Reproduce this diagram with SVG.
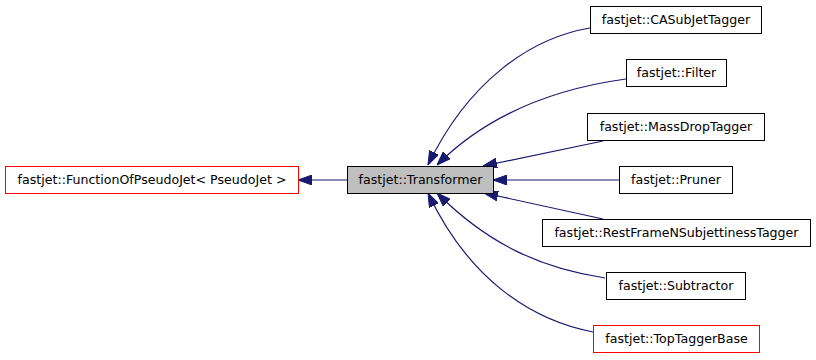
<svg xmlns="http://www.w3.org/2000/svg" width="816" height="360" viewBox="0 0 816 360">
<defs>
<marker id="arr" viewBox="0 0 14 10" refX="14" refY="5" markerWidth="14" markerHeight="10" markerUnits="userSpaceOnUse" orient="auto">
<path d="M0,0 L14,5 L0,10 Z" fill="#191970" stroke="#191970" stroke-width="1"/>
</marker>
</defs>
<style>
.box{fill:#ffffff;stroke:#000000;stroke-width:1}
.red{fill:#ffffff;stroke:#ff0000;stroke-width:1}
.cur{fill:#bfbfbf;stroke:#000000;stroke-width:1}
.lbl{font-family:"DejaVu Sans",sans-serif;font-size:12.6px;fill:#000000;text-anchor:middle}
.edge{fill:none;stroke:#191970;stroke-width:1.2;marker-end:url(#arr)}
</style>
<rect width="816" height="360" fill="#ffffff"/>
<g id="connectors">
<path class="edge" d="M347,180 L298,180"/>
<path class="edge" d="M590,28 C530,38 468,82 428,165"/>
<path class="edge" d="M626,79 C560,88 490,112 437,165"/>
<path class="edge" d="M603,141 L483,166"/>
<path class="edge" d="M619,180 L493,180"/>
<path class="edge" d="M603,219 L484,193"/>
<path class="edge" d="M605,278 C540,268 488,244 437,193"/>
<path class="edge" d="M593,332 C530,320 468,278 428,193"/>
</g>
<g id="FunctionOfPseudoJet">
<rect class="red" x="5.5" y="166.5" width="293" height="27"/>
<text class="lbl" x="152" y="183.5">fastjet::FunctionOfPseudoJet&lt; PseudoJet &gt;</text>
</g>
<g id="Transformer">
<rect class="cur" x="347.5" y="166.5" width="146" height="27"/>
<text class="lbl" x="420.5" y="183.5">fastjet::Transformer</text>
</g>
<g id="CASubJetTagger">
<rect class="box" x="590.5" y="6.5" width="171" height="27"/>
<text class="lbl" x="676" y="23.5">fastjet::CASubJetTagger</text>
</g>
<g id="Filter">
<rect class="box" x="626.5" y="59.5" width="100" height="27"/>
<text class="lbl" x="676.5" y="76.5">fastjet::Filter</text>
</g>
<g id="MassDropTagger">
<rect class="box" x="587.5" y="113.5" width="177" height="27"/>
<text class="lbl" x="676" y="130.5">fastjet::MassDropTagger</text>
</g>
<g id="Pruner">
<rect class="box" x="619.5" y="166.5" width="113" height="27"/>
<text class="lbl" x="676" y="183.5">fastjet::Pruner</text>
</g>
<g id="RestFrameNSubjettinessTagger">
<rect class="box" x="542.5" y="219.5" width="268" height="27"/>
<text class="lbl" x="676.5" y="236.5">fastjet::RestFrameNSubjettinessTagger</text>
</g>
<g id="Subtractor">
<rect class="box" x="606.5" y="272.5" width="139" height="27"/>
<text class="lbl" x="676" y="289.5">fastjet::Subtractor</text>
</g>
<g id="TopTaggerBase">
<rect class="red" x="593.5" y="325.5" width="166" height="27"/>
<text class="lbl" x="676.5" y="342.5">fastjet::TopTaggerBase</text>
</g>
</svg>
